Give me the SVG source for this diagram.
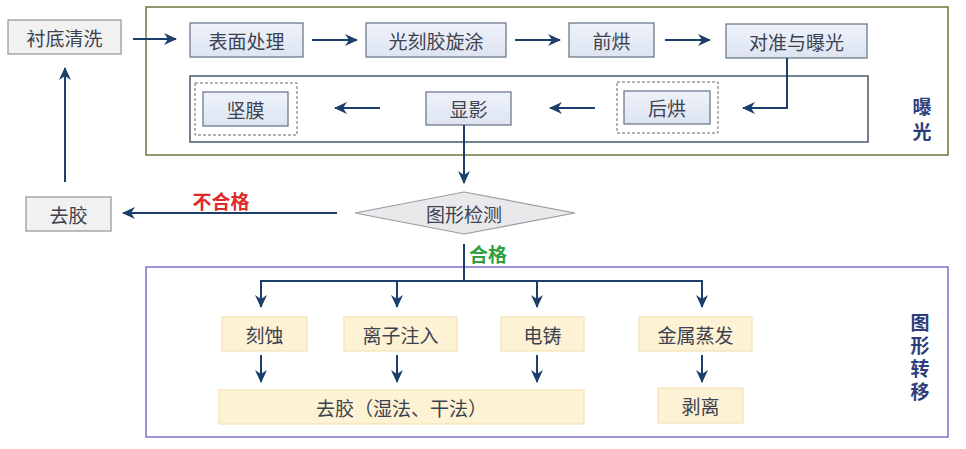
<svg xmlns="http://www.w3.org/2000/svg" width="966" height="449" viewBox="0 0 966 449">
<defs>
<marker id="ah" markerUnits="userSpaceOnUse" markerWidth="14" markerHeight="12" refX="12" refY="6" orient="auto">
<path d="M0,0 L13,6 L0,12 L4,6 Z" fill="#1b3f6a"/>
</marker>
<linearGradient id="gb" x1="0" y1="0" x2="0" y2="1">
<stop offset="0" stop-color="#eef2fa"/>
<stop offset="1" stop-color="#dde4f1"/>
</linearGradient>
</defs>
<style>
text{font-family:"Noto Sans CJK SC","Noto Sans",sans-serif;font-size:19px;fill:#3c4250;text-anchor:middle;dominant-baseline:central}
.blue rect{fill:url(#gb);stroke:#6d7a8c;stroke-width:1.3}
.gray rect{fill:#f1f1f1;stroke:#9a9a9a;stroke-width:1.3}
.yel rect{fill:#fdf2d4;stroke:#f3e2b4;stroke-width:1.2}
.dash{fill:none;stroke:#666;stroke-width:1;stroke-dasharray:3 2}
.ln{fill:none;stroke:#1b3f6a;stroke-width:2}
.arr{fill:none;stroke:#1b3f6a;stroke-width:2;marker-end:url(#ah)}
.lbl{font-size:19px;font-weight:bold;fill:#2d3e7a;writing-mode:vertical-rl;text-anchor:start}
</style>
<rect width="966" height="449" fill="#ffffff"/>

<g id="group-exposure">
<rect x="146" y="7" width="802" height="148" fill="none" stroke="#6b7a3c" stroke-width="1.5"/>
<rect x="190" y="76" width="678" height="66" fill="none" stroke="#4a5a6a" stroke-width="1.5"/>
<text class="lbl" x="922" y="97" style="letter-spacing:6px">曝光</text>
</g>
<g id="group-transfer">
<rect x="146" y="267" width="802" height="170" fill="none" stroke="#7b70cf" stroke-width="1.5"/>
<text class="lbl" x="920" y="313" style="letter-spacing:4px">图形转移</text>
</g>

<g id="n-clean" class="gray"><rect x="8" y="20" width="113" height="34"/><text x="64.5" y="37">衬底清洗</text></g>
<g id="n-surface" class="blue"><rect x="190" y="23" width="113" height="34"/><text x="246.5" y="40">表面处理</text></g>
<g id="n-spin" class="blue"><rect x="366" y="23" width="140" height="34"/><text x="436" y="40">光刻胶旋涂</text></g>
<g id="n-prebake" class="blue"><rect x="569" y="23" width="85" height="34"/><text x="611.5" y="40">前烘</text></g>
<g id="n-expose" class="blue"><rect x="726" y="24" width="141" height="34"/><text x="796.5" y="41">对准与曝光</text></g>
<g id="n-postbake" class="blue"><rect x="617" y="82" width="101" height="51" style="fill:none;stroke:#666;stroke-dasharray:3 2;stroke-width:1"/><rect x="624" y="91" width="86" height="33"/><text x="667" y="107.5">后烘</text></g>
<g id="n-develop" class="blue"><rect x="426" y="92" width="85" height="33"/><text x="468.5" y="108.5">显影</text></g>
<g id="n-hardbake" class="blue"><rect x="195" y="83" width="102" height="52" style="fill:none;stroke:#666;stroke-dasharray:3 2;stroke-width:1"/><rect x="203" y="92" width="85" height="34"/><text x="245.5" y="109">坚膜</text></g>
<g id="n-inspect"><polygon points="355,213 464,192 575,213 464,234" fill="#e9e9ec" stroke="#9a9aa2" stroke-width="1.2"/><text x="464" y="213">图形检测</text></g>
<g id="n-strip1" class="gray"><rect x="26" y="197" width="85" height="34"/><text x="68.5" y="214">去胶</text></g>
<g id="n-etch" class="yel"><rect x="222" y="317" width="85" height="34"/><text x="264.5" y="334">刻蚀</text></g>
<g id="n-implant" class="yel"><rect x="344" y="317" width="113" height="34"/><text x="400.5" y="334">离子注入</text></g>
<g id="n-plate" class="yel"><rect x="501" y="317" width="83" height="34"/><text x="542.5" y="334">电铸</text></g>
<g id="n-evap" class="yel"><rect x="639" y="317" width="113" height="34"/><text x="695.5" y="334">金属蒸发</text></g>
<g id="n-strip2" class="yel"><rect x="219" y="390" width="365" height="34"/><text x="401.5" y="407">去胶（湿法、干法）</text></g>
<g id="n-liftoff" class="yel"><rect x="658" y="388" width="85" height="35"/><text x="700.5" y="405.5">剥离</text></g>

<g id="connectors">
<line class="arr" x1="133" y1="39" x2="176" y2="39"/>
<line class="arr" x1="312" y1="40" x2="357" y2="40"/>
<line class="arr" x1="515" y1="40" x2="560" y2="40"/>
<line class="arr" x1="665" y1="40" x2="710" y2="40"/>
<polyline class="arr" points="787,58 787,108 743,108"/>
<line class="arr" x1="595" y1="108" x2="550" y2="108"/>
<line class="arr" x1="380" y1="108" x2="335" y2="108"/>
<line class="arr" x1="464" y1="125" x2="464" y2="183"/>
<line class="arr" x1="337" y1="213" x2="123" y2="213"/>
<text x="221" y="200" style="fill:#e02a2a;font-weight:bold">不合格</text>
<line class="arr" x1="65" y1="182" x2="65" y2="68"/>
<polyline class="ln" points="464,244 464,281"/>
<text x="488" y="253" style="fill:#2ea040;font-weight:bold">合格</text>
<polyline class="ln" points="261,307 261,281 702,281 702,307"/>
<line class="arr" x1="261" y1="281" x2="261" y2="307"/>
<line class="arr" x1="397" y1="281" x2="397" y2="307"/>
<line class="arr" x1="537" y1="281" x2="537" y2="307"/>
<line class="arr" x1="702" y1="281" x2="702" y2="307"/>
<line class="arr" x1="261" y1="355" x2="261" y2="382"/>
<line class="arr" x1="397" y1="355" x2="397" y2="382"/>
<line class="arr" x1="537" y1="355" x2="537" y2="382"/>
<line class="arr" x1="702" y1="355" x2="702" y2="382"/>
</g>
</svg>
